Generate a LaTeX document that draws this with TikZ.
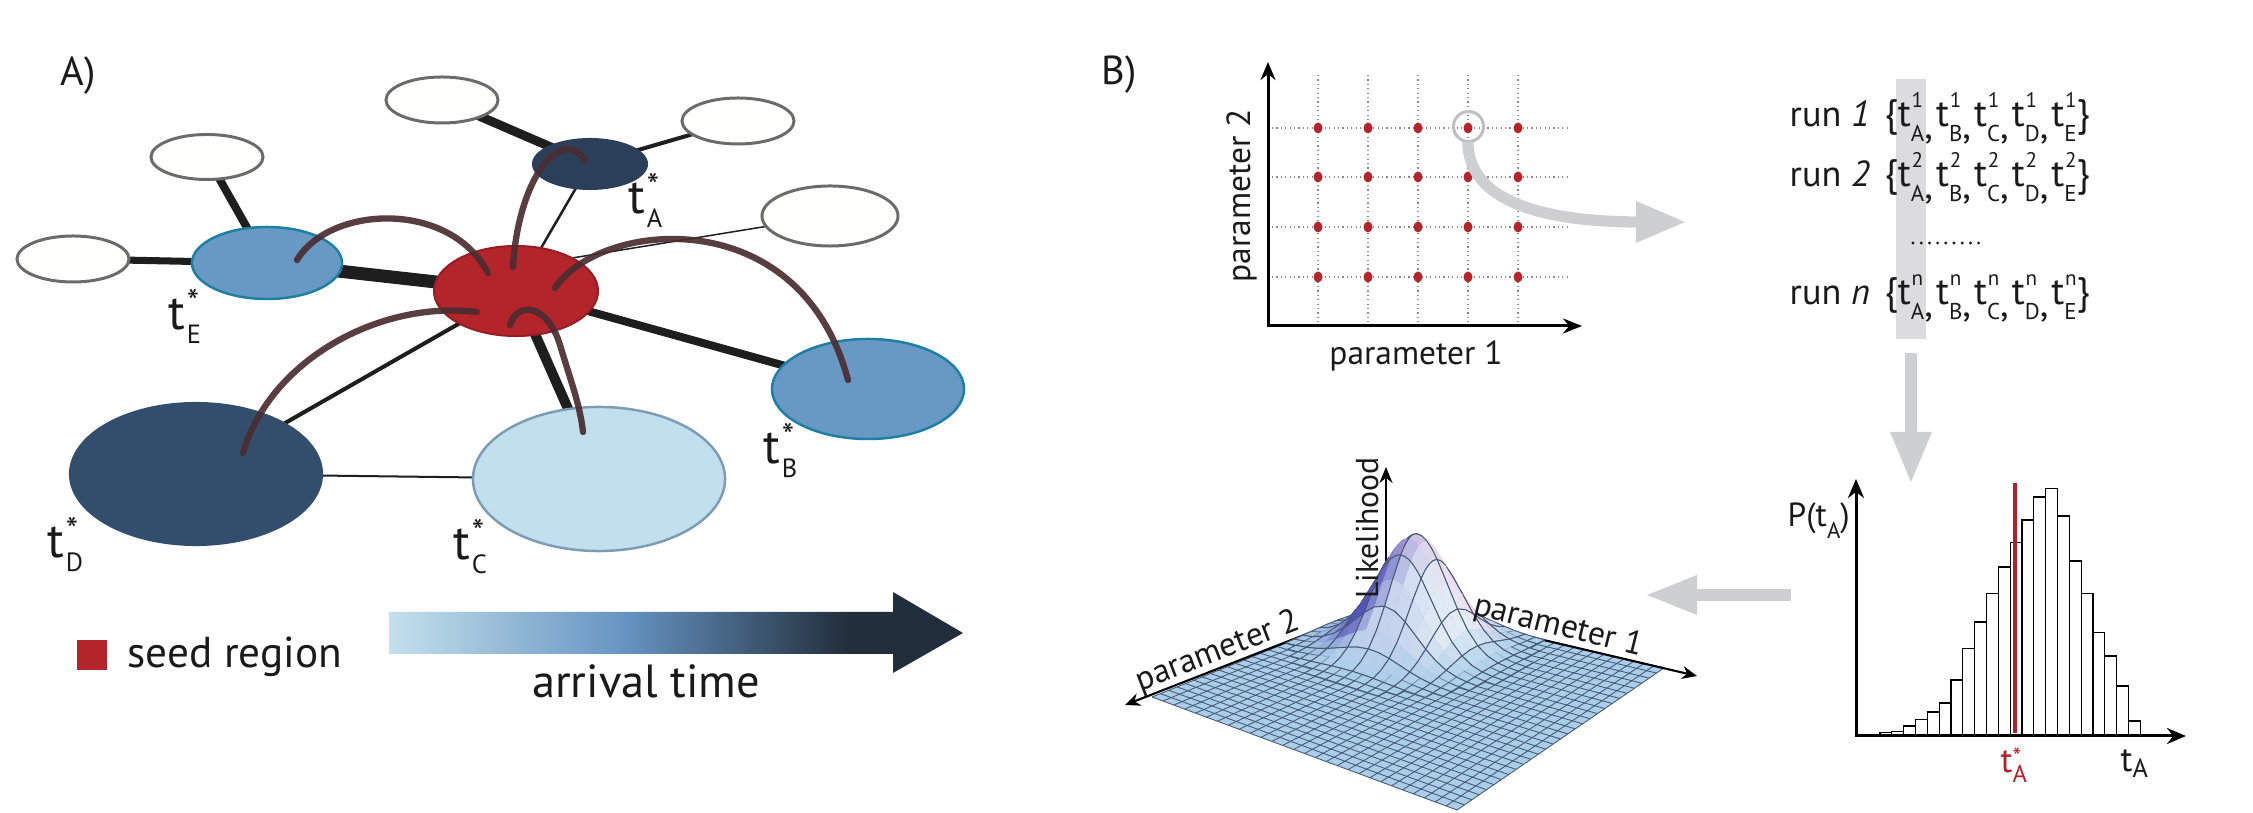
\documentclass[tikz,border=0pt]{standalone}
\usepackage{fontspec}
\setmainfont{PT Sans}
\usetikzlibrary{shapes.geometric,arrows.meta,backgrounds}

\definecolor{seedred}{HTML}{B3242B}
\definecolor{seedborder}{HTML}{961D23}
\definecolor{navyA}{HTML}{2C3F58}
\definecolor{navyD}{HTML}{334E6C}
\definecolor{midblue}{HTML}{6898C4}
\definecolor{tealb}{HTML}{1D7FA2}
\definecolor{lightb}{HTML}{C2DFED}
\definecolor{lightbb}{HTML}{7C9CB4}
\definecolor{wfill}{HTML}{FFFFFB}
\definecolor{wgray}{HTML}{6B6B6B}
\definecolor{edgeblack}{HTML}{1E1E1E}
\definecolor{brownarc}{HTML}{4A2D31}
\definecolor{arrA}{HTML}{C4E0EC}
\definecolor{arrB}{HTML}{6694C2}
\definecolor{arrC}{HTML}{222E3C}
\definecolor{flowgray}{HTML}{CDCFD1}
\definecolor{ringgray}{HTML}{BDBFC1}
\definecolor{bandgray}{HTML}{DCDCDE}
\definecolor{gridgray}{HTML}{8A8A8A}
\definecolor{planeblue}{RGB}{170,206,233}
\definecolor{meshline}{RGB}{72,90,115}
\definecolor{txt}{HTML}{1A1A1A}
\definecolor{histred}{HTML}{B5202A}

\pgfdeclarehorizontalshading{arrivalshade}{100bp}{color(0bp)=(arrA); color(25bp)=(arrA); color(45.5bp)=(arrB); color(65bp)=(arrC); color(100bp)=(arrC)}

\newcommand\tstar[1]{t\rlap{\kern0.03em\raisebox{0.32em}{\fontsize{10}{10}\selectfont *}}\kern0.03em\raisebox{-0.27em}{\fontsize{7.5}{8}\selectfont #1}}
\newcommand\tvar[2]{t\rlap{\kern0.02em\raisebox{0.5em}{\fontsize{6}{6}\selectfont #1}}\raisebox{-0.38em}{\fontsize{6.5}{7}\selectfont #2}}
\newcommand\tcomma{\raisebox{-0.3em}{,}\kern0.08em}
\newcommand\surfpth[5]{\pgfmathsetmacro#5{sfh(#1,#2)}\pgfmathsetmacro#3{sfx(#1,#2)}\pgfmathsetmacro#4{sfy(#1,#2)-#5}}
\newcommand\mixch[6]{\pgfmathsetmacro#6{((#4)*(1-\cM)+\cM*((((#1)*(1-\cT)+(#2)*\cT)*(1-\cH)+(#5)*\cH)*(1-\cF)+(#3)*\cF))/255}}

\begin{document}
\begin{tikzpicture}[x=0.01cm,y=-0.01cm,
  declare function={
    sfx(\x,\y)=(1-\x)*(1-\y)*1386+\x*(1-\y)*1664+(1-\x)*\y*1152+\x*\y*1457;
    sfy(\x,\y)=(1-\x)*(1-\y)*603+\x*(1-\y)*668+(1-\x)*\y*697+\x*\y*810;
    sfh(\x,\y)=112*exp(-((\x-0.29)^2+(\y-0.23)^2)/0.02205);
  },
  wnode/.style={ellipse, draw=wgray, fill=wfill, line width=0.85pt, inner sep=0pt},
  rnode/.style={ellipse, inner sep=0pt},
  edge/.style={draw=edgeblack, line cap=butt},
  arcst/.style={draw=brownarc, line width=1.8pt, line cap=round, draw opacity=0.92},
  lab/.style={inner sep=0pt, text=txt, font=\fontsize{14}{16}\selectfont},
  big/.style={inner sep=0pt, text=txt, font=\fontsize{11.5}{13}\selectfont},
  runtxt/.style={inner sep=0pt, text=txt, font=\fontsize{10.3}{12}\selectfont},
  settxt/.style={inner sep=0pt, text=txt, font=\fontsize{10.9}{12}\selectfont},
  small/.style={inner sep=0pt, text=txt, font=\fontsize{9.5}{11}\selectfont},
  gridd/.style={draw=gridgray, line width=0.3pt, dash pattern=on 0.35pt off 0.9pt},
  axisln/.style={draw=black, line width=0.85pt},
  bar/.style={draw=black, fill=white, line width=0.35pt},
  meshfine/.style={draw=meshline, line width=0.25pt},
  meshst/.style={draw=meshline, line width=0.27pt, line cap=round},
]
\useasboundingbox (0,0) rectangle (2253,813);

% ================= Panel A =================
\node[big] (labelA) at (78,76) {A)};

\node[wnode, minimum width=1.12cm, minimum height=0.46cm] (wTL) at (442,100) {};
\node[wnode, minimum width=1.12cm, minimum height=0.46cm] (wTR) at (738,121) {};
\node[rnode, fill=navyA, minimum width=1.16cm, minimum height=0.52cm] (tA) at (590,164) {};
\node[wnode, minimum width=1.12cm, minimum height=0.45cm] (wUL) at (207,157) {};
\node[wnode, minimum width=1.12cm, minimum height=0.46cm] (wL) at (73,259) {};
\node[wnode, minimum width=1.36cm, minimum height=0.60cm] (wR) at (830,216) {};
\node[rnode, fill=midblue, draw=tealb, line width=0.7pt, minimum width=1.50cm, minimum height=0.72cm] (tE) at (267,263) {};
\node[rnode, fill=seedred, draw=seedborder, line width=0.57pt, minimum width=1.64cm, minimum height=0.90cm] (seed) at (516,291) {};
\node[rnode, fill=midblue, draw=tealb, line width=0.7pt, minimum width=1.92cm, minimum height=1.00cm] (tB) at (868,389) {};
\node[rnode, fill=navyD, minimum width=2.54cm, minimum height=1.44cm] (tD) at (196,474) {};
\node[rnode, fill=lightb, draw=lightbb, line width=0.7pt, minimum width=2.52cm, minimum height=1.44cm] (tC) at (599,479) {};

\begin{pgfonlayer}{background}
\draw[edge, line width=2.56pt] (wTL.center) -- (tA.center);
\draw[edge, line width=1.14pt] (tA.center) -- (wTR.center);
\draw[edge, line width=0.71pt] (tA.center) -- (seed.center);
\draw[edge, line width=2.28pt] (wUL.center) -- (tE.center);
\draw[edge, line width=2pt] (wL.center) -- (tE.center);
\draw[edge, line width=3.7pt] (tE.center) -- (seed.center);
\draw[edge, line width=0.43pt] (seed.30) -- (wR.center);
\draw[edge, line width=2.28pt] (seed.center) -- (tB.center);
\draw[edge, line width=2.85pt] (seed.center) -- (tC.center);
\draw[edge, line width=1.14pt] (seed.center) -- (tD.center);
\draw[edge, line width=0.57pt] (tD.center) -- (tC.center);
\end{pgfonlayer}

% brown spreading arcs
\coordinate (aE1) at (297,260); \coordinate (aE2) at (488,273);
\draw[arcst] (aE1) .. controls (330,205) and (450,200) .. (aE2);
\coordinate (aA1) at (513,267); \coordinate (aA2) at (585,160);
\draw[arcst] (aA1) .. controls (518,180) and (560,125) .. (aA2);
\coordinate (aB1) at (555,288); \coordinate (aB2) at (848,380);
\draw[arcst] (aB1) .. controls (600,220) and (800,200) .. (aB2);
\coordinate (aD1) at (477,312); \coordinate (aD2) at (243,453);
\draw[arcst] (aD1) .. controls (380,300) and (270,360) .. (aD2);
\coordinate (aC1) at (510,325); \coordinate (aC2) at (583,432);
\draw[arcst] (aC1) .. controls (518,300) and (548,305) .. (560,345) .. controls (572,385) and (580,405) .. (aC2);

\node[lab, anchor=base west] (labtA) at (628,214) {\tstar{A}};
\node[lab, anchor=base west] (labtE) at (168,330) {\tstar{E}};
\node[lab, anchor=base west] (labtB) at (763,464) {\tstar{B}};
\node[lab, anchor=base west] (labtD) at (47,558) {\tstar{D}};
\node[lab, anchor=base west] (labtC) at (453,560) {\tstar{C}};

% legend
\fill[seedred] (77,640) rectangle (107,670);
\node[inner sep=0pt, text=txt, font=\fontsize{12.3}{14}\selectfont, anchor=base west] (seedtxt) at (127,668) {seed region};
\shade[shading=arrivalshade] (389,612) -- (893,612) -- (893,592) -- (963,633) -- (893,673) -- (893,654) -- (389,654) -- cycle;
\node[inner sep=0pt, text=txt, font=\fontsize{13.2}{15}\selectfont, anchor=base] (arrtxt) at (646,698) {arrival time};

% ================= Panel B =================
\node[big] (labelB) at (1119,75) {B)};

% parameter grid
\foreach \cx in {1318,1368,1418,1468,1518} \draw[gridd] (\cx,75) -- (\cx,326);
\foreach \cy in {128,177,227,277} \draw[gridd] (1272,\cy) -- (1567,\cy);
\draw[axisln, {Stealth[length=1.8mm,width=1.5mm]}-{Stealth[length=1.9mm,width=1.5mm]}] (1268,62) -- (1268,326) -- (1582,326);
\foreach \cx in {1318,1368,1418,1468,1518}
  \foreach \cy in {128,177,227,277}
    \fill[seedred] (\cx,\cy) ellipse [x radius=0.045cm, y radius=0.055cm];
\node[small, anchor=base] (p1lab) at (1416,365) {parameter 1};
\node[small, anchor=base, rotate=90] (p2lab) at (1250,196) {parameter 2};
\draw[ringgray, line width=0.85pt] (1468.5,126.5) circle[radius=0.15cm];
\draw[flowgray, line width=3.2pt] (1468,142) .. controls (1468,200) and (1540,222) .. (1640,222);
\fill[flowgray] (1636,201) -- (1685,222) -- (1636,243) -- cycle;

% runs
\fill[bandgray] (1896,79) rectangle (1926,339);
\node[runtxt, anchor=base west] (run1) at (1789,127) {run \textit{1}};
\node[settxt, anchor=base west] (set1) at (1884,127) {\{\tvar{1}{A}\tcomma\tvar{1}{B}\tcomma\tvar{1}{C}\tcomma\tvar{1}{D}\tcomma\tvar{1}{E}\}};
\node[runtxt, anchor=base west] (run2) at (1789,187) {run \textit{2}};
\node[settxt, anchor=base west] (set2) at (1884,187) {\{\tvar{2}{A}\tcomma\tvar{2}{B}\tcomma\tvar{2}{C}\tcomma\tvar{2}{D}\tcomma\tvar{2}{E}\}};
\node[runtxt, anchor=base west] (runn) at (1789,305) {run \textit{n}};
\node[settxt, anchor=base west] (setn) at (1884,305) {\{\tvar{n}{A}\tcomma\tvar{n}{B}\tcomma\tvar{n}{C}\tcomma\tvar{n}{D}\tcomma\tvar{n}{E}\}};
\foreach \k in {0,...,8} \fill[txt] ({1913+8.2*\k},243) circle[radius=0.016cm];

% flow arrows
\fill[flowgray] (1905,353) rectangle (1917,433);
\fill[flowgray] (1890,432) -- (1932,432) -- (1911,482) -- cycle;
\fill[flowgray] (1696,589) rectangle (1791,601);
\fill[flowgray] (1697,575) -- (1697,615) -- (1647,595) -- cycle;

% histogram
\foreach \h [count=\k from 0] in {3.7,4.3,10,16.3,24,33,56,87.3,114,142.7,169,193.3,216,239,247.3,220,175,142.7,103.3,80,50,15}
  \draw[bar] ({1880+11.83*\k},736) rectangle ({1880+11.83*(\k+1)},{736-\h});
\draw[axisln, {Stealth[length=1.9mm,width=1.6mm]}-{Stealth[length=1.9mm,width=1.6mm]}] (1856,479) -- (1856,736) -- (2186,736);
\draw[histred, line width=1.14pt] (2015,483) -- (2015,733);
\node[small, anchor=base west] (plab) at (1787,527) {P(t\raisebox{-0.33em}{\fontsize{6.5}{7}\selectfont A})};
\node[inner sep=0pt, text=histred, font=\fontsize{10}{12}\selectfont, anchor=base west] (tstarlab) at (2000,773) {t\rlap{\raisebox{0.22em}{\fontsize{7}{7}\selectfont *}}\raisebox{-0.26em}{\fontsize{7}{7}\selectfont A}};
\node[inner sep=0pt, text=txt, font=\fontsize{10}{12}\selectfont, anchor=base west] (talab) at (2120,772) {t\raisebox{-0.17em}{\fontsize{7.5}{8}\selectfont A}};

% likelihood surface
\coordinate (bB) at (1386,603);
\coordinate (bR) at (1664,668);
\coordinate (bF) at (1457,810);
\coordinate (bL) at (1152,697);
\fill[planeblue] (bB) -- (bR) -- (bF) -- (bL) -- cycle;
\foreach \k in {0,...,28}{
  \pgfmathsetmacro\sk{\k/28}
  \draw[meshfine] ({sfx(\sk,0)},{sfy(\sk,0)}) -- ({sfx(\sk,1)},{sfy(\sk,1)});
  \draw[meshfine] ({sfx(0,\sk)},{sfy(0,\sk)}) -- ({sfx(1,\sk)},{sfy(1,\sk)});
}
\draw[draw=black, line width=0.6pt, -{Stealth[length=1.5mm,width=1.3mm]}] (bB) -- (1697,676);
\draw[draw=black, line width=0.6pt, -{Stealth[length=1.5mm,width=1.3mm]}] (bB) -- (1125,705);
\draw[draw=black, line width=0.6pt, -{Stealth[length=1.6mm,width=1.3mm]}] (bB) -- (1386,467);
\foreach \i in {0,...,18}{
 \foreach \j in {0,...,16}{
  \pgfmathsetmacro\um{(\i+0.5)/28}
  \pgfmathsetmacro\vm{(\j+0.5)/28}
  \pgfmathsetmacro\hc{sfh(\um,\vm)}
  \pgfmathtruncatemacro\cdo{\hc>0.5?1:0}
  \ifnum\cdo=1
   \pgfmathsetmacro\ua{\i/28}
   \pgfmathsetmacro\ub{(\i+1)/28}
   \pgfmathsetmacro\va{\j/28}
   \pgfmathsetmacro\vb{(\j+1)/28}
   \surfpth{\ua}{\va}{\xA}{\yA}{\hA}
   \surfpth{\ub}{\va}{\xB}{\yB}{\hB}
   \surfpth{\ub}{\vb}{\xC}{\yC}{\hC}
   \surfpth{\ua}{\vb}{\xD}{\yD}{\hD}
   \surfpth{\um}{\va}{\xP}{\yP}{\hP}
   \surfpth{\ub}{\vm}{\xQ}{\yQ}{\hQ}
   \surfpth{\um}{\vb}{\xR}{\yR}{\hR}
   \surfpth{\ua}{\vm}{\xS}{\yS}{\hS}
   \pgfmathsetmacro\cABx{(8*\xP-\xA-\xB)/6}\pgfmathsetmacro\cABy{(8*\yP-\yA-\yB)/6}
   \pgfmathsetmacro\cBCx{(8*\xQ-\xB-\xC)/6}\pgfmathsetmacro\cBCy{(8*\yQ-\yB-\yC)/6}
   \pgfmathsetmacro\cCDx{(8*\xR-\xC-\xD)/6}\pgfmathsetmacro\cCDy{(8*\yR-\yC-\yD)/6}
   \pgfmathsetmacro\cDAx{(8*\xS-\xD-\xA)/6}\pgfmathsetmacro\cDAy{(8*\yS-\yD-\yA)/6}
   \pgfmathsetmacro\dU{\um-0.29}
   \pgfmathsetmacro\dV{\vm-0.23}
   \pgfmathsetmacro\cRr{\hc/112}
   \pgfmathsetmacro\cZ{max(-8,min(8,2.5*(\dU-\dV)/0.1+0.4))}
   \pgfmathsetmacro\cT{1/(1+exp(-(\cZ)))}
   \pgfmathsetmacro\cF{0.8*max(0,min(1,(\dU+\dV)/0.1-0.2))}
   \pgfmathsetmacro\cM{min(1,4*\cRr)}
   \pgfmathsetmacro\cH{0.3*\cRr*\cRr*\cRr}
   \mixch{82}{246}{222}{170}{245}{\colR}
   \mixch{80}{220}{240}{206}{240}{\colG}
   \mixch{186}{236}{248}{233}{250}{\colB}
   \definecolor{cellcol}{rgb}{\colR,\colG,\colB}
   \fill[cellcol] (\xA,\yA) .. controls (\cABx,\cABy) .. (\xB,\yB)
     .. controls (\cBCx,\cBCy) .. (\xC,\yC)
     .. controls (\cCDx,\cCDy) .. (\xD,\yD)
     .. controls (\cDAx,\cDAy) .. (\xA,\yA) -- cycle;
   \pgfmathsetmacro\oAB{mod(\j,2)==1 ? max(0,min(1,1.2-\hP/4)) : 1}
   \pgfmathsetmacro\oBC{mod(\i+1,2)==1 ? max(0,min(1,1.2-\hQ/4)) : 1}
   \pgfmathsetmacro\oCD{mod(\j+1,2)==1 ? max(0,min(1,1.2-\hR/4)) : 1}
   \pgfmathsetmacro\oDA{mod(\i,2)==1 ? max(0,min(1,1.2-\hS/4)) : 1}
   \draw[meshst, draw opacity=\oAB] (\xA,\yA) .. controls (\cABx,\cABy) .. (\xB,\yB);
   \draw[meshst, draw opacity=\oBC] (\xB,\yB) .. controls (\cBCx,\cBCy) .. (\xC,\yC);
   \draw[meshst, draw opacity=\oCD] (\xC,\yC) .. controls (\cCDx,\cCDy) .. (\xD,\yD);
   \draw[meshst, draw opacity=\oDA] (\xD,\yD) .. controls (\cDAx,\cDAy) .. (\xA,\yA);
  \fi
 }
}
\node[small, anchor=base, rotate=90, font=\fontsize{9}{11}\selectfont] (likelab) at (1378,528) {Likelihood};
\node[small, anchor=base, rotate=21] (s2lab) at (1221,660) {parameter 2};
\node[small, anchor=base, rotate=-14] (s1lab) at (1556,635) {parameter 1};

\end{tikzpicture}
\end{document}
